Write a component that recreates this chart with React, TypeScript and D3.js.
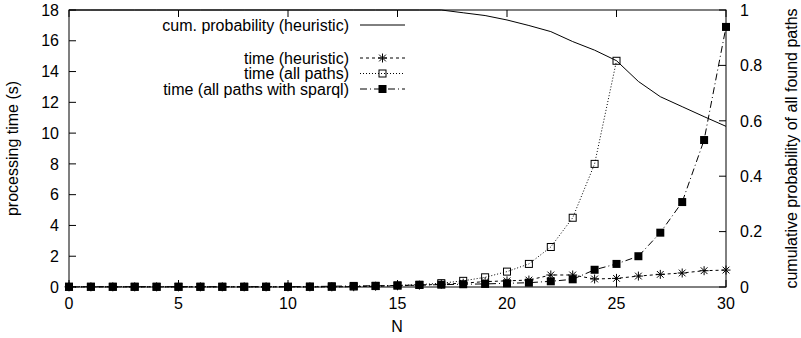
import * as d3 from "d3";

const nValues = d3.range(0, 31);
const xTicks = [0, 5, 10, 15, 20, 25, 30];
const yTicks = [0, 2, 4, 6, 8, 10, 12, 14, 16, 18];
const y2Ticks = [0, 0.2, 0.4, 0.6, 0.8, 1];

const cumProbability = [
  1, 1, 1, 1, 1, 1, 1, 1, 1, 1, 1, 1, 1, 1, 1, 1, 1, 1,
  0.99, 0.98, 0.964, 0.944, 0.922, 0.886, 0.855, 0.817, 0.742, 0.687, 0.651, 0.615, 0.58,
];
const timeHeuristic = [
  0.01, 0.01, 0.01, 0.01, 0.01, 0.01, 0.01, 0.01, 0.01, 0.01, 0.01, 0.01, 0.01,
  0.02, 0.05, 0.08, 0.12, 0.18, 0.25, 0.35, 0.4, 0.45, 0.78, 0.78, 0.52, 0.56,
  0.71, 0.82, 0.91, 1.06, 1.1,
];
const timeAllPaths = [
  0.01, 0.01, 0.01, 0.01, 0.01, 0.01, 0.01, 0.01, 0.01, 0.01, 0.01, 0.01, 0.01,
  0.03, 0.06, 0.1, 0.15, 0.25, 0.4, 0.63, 1.0, 1.5, 2.6, 4.5, 8.0, 14.7,
];
const timeSparql = [
  0.02, 0.02, 0.02, 0.02, 0.02, 0.02, 0.02, 0.02, 0.02, 0.02, 0.02, 0.03, 0.05,
  0.07, 0.08, 0.1, 0.13, 0.15, 0.18, 0.2, 0.24, 0.28, 0.37, 0.5, 1.12, 1.5, 2.0,
  3.53, 5.52, 9.55, 16.9,
];

const W = 801;
const H = 338;
const margin = { top: 10, right: 75, bottom: 51, left: 69 };
const FONT = "'Liberation Sans', Arial, Helvetica, sans-serif";
const FS = 16;

function Star({ x, y, s = 4.5 }: { x: number; y: number; s?: number }) {
  const d = s * 0.75;
  return (
    <path
      d={`M${x - s},${y}H${x + s}M${x},${y - s}V${y + s}M${x - d},${y - d}L${x + d},${y + d}M${x - d},${y + d}L${x + d},${y - d}`}
      stroke="#000"
      strokeWidth={1}
    />
  );
}

function OpenSquare({ x, y, s = 3.5 }: { x: number; y: number; s?: number }) {
  return <rect x={x - s} y={y - s} width={s * 2} height={s * 2} fill="none" stroke="#000" strokeWidth={1} />;
}

function FilledSquare({ x, y, s = 4 }: { x: number; y: number; s?: number }) {
  return <rect x={x - s} y={y - s} width={s * 2} height={s * 2} fill="#000" />;
}

export default function App() {
  const innerW = W - margin.left - margin.right;
  const innerH = H - margin.top - margin.bottom;
  const x = d3.scaleLinear().domain([0, 30]).range([margin.left, margin.left + innerW]);
  const y = d3.scaleLinear().domain([0, 18]).range([margin.top + innerH, margin.top]);
  const y2 = d3.scaleLinear().domain([0, 1]).range([margin.top + innerH, margin.top]);

  const lineL = d3.line<number>().x((_, i) => x(nValues[i])).y((d) => y(d));
  const lineR = d3.line<number>().x((_, i) => x(nValues[i])).y((d) => y2(d));

  const tick = 7;
  const legendTextX = 349;
  const legendX1 = 360;
  const legendX2 = 405;
  const legendMid = (legendX1 + legendX2) / 2;
  const rows = [25, 58, 73.5, 89];
  const dy = 5.7;

  return (
    <svg width={W} height={H} style={{ position: "absolute", left: 0, top: 0, background: "#fff" }} fontFamily={FONT}>
      <rect x={0} y={0} width={W} height={H} fill="#fff" />

      {/* ticks */}
      {xTicks.map((t) => (
        <g key={`xt${t}`}>
          <line x1={x(t)} x2={x(t)} y1={y(0)} y2={y(0) - tick} stroke="#000" />
          <line x1={x(t)} x2={x(t)} y1={y(18)} y2={y(18) + tick} stroke="#000" />
          <text x={x(t)} y={309} textAnchor="middle" fontSize={FS}>{t}</text>
        </g>
      ))}
      {yTicks.map((t) => (
        <g key={`yt${t}`}>
          <line x1={x(0)} x2={x(0) + tick} y1={y(t)} y2={y(t)} stroke="#000" />
          <text x={59} y={y(t) + dy} textAnchor="end" fontSize={FS}>{t}</text>
        </g>
      ))}
      {y2Ticks.map((t) => (
        <g key={`y2t${t}`}>
          <line x1={x(30)} x2={x(30) - tick} y1={y2(t)} y2={y2(t)} stroke="#000" />
          <text x={740} y={y2(t) + dy} textAnchor="start" fontSize={FS}>{t}</text>
        </g>
      ))}

      {/* axis labels */}
      <text x={397} y={332} textAnchor="middle" fontSize={FS}>N</text>
      <text transform={`translate(18,${(y(0) + y(18)) / 2}) rotate(-90)`} textAnchor="middle" fontSize={FS}>
        processing time (s)
      </text>
      <text transform={`translate(797,${(y(0) + y(18)) / 2}) rotate(-90)`} textAnchor="middle" fontSize={FS}>
        cumulative probability of all found paths
      </text>

      {/* series */}
      <path d={lineR(cumProbability) || ""} fill="none" stroke="#000" strokeWidth={1} />

      <path d={lineL(timeHeuristic) || ""} fill="none" stroke="#000" strokeWidth={1} strokeDasharray="3,3" />
      {timeHeuristic.map((d, i) => <Star key={`h${i}`} x={x(nValues[i])} y={y(d)} />)}

      <path d={lineL(timeAllPaths) || ""} fill="none" stroke="#000" strokeWidth={1} strokeDasharray="1,2" />
      {timeAllPaths.map((d, i) => <OpenSquare key={`a${i}`} x={x(nValues[i])} y={y(d)} />)}

      <path d={lineL(timeSparql) || ""} fill="none" stroke="#000" strokeWidth={1} strokeDasharray="7,3,1,3" />
      {timeSparql.map((d, i) => <FilledSquare key={`s${i}`} x={x(nValues[i])} y={y(d)} />)}

      {/* legend */}
      <g fontSize={FS} textAnchor="end">
        <text x={legendTextX} y={rows[0] + dy}>cum. probability (heuristic)</text>
        <line x1={legendX1} x2={legendX2} y1={rows[0]} y2={rows[0]} stroke="#000" />

        <text x={legendTextX} y={rows[1] + dy}>time (heuristic)</text>
        <line x1={legendX1} x2={legendX2} y1={rows[1]} y2={rows[1]} stroke="#000" strokeDasharray="3,3" />
        <Star x={legendMid} y={rows[1]} />

        <text x={legendTextX} y={rows[2] + dy}>time (all paths)</text>
        <line x1={legendX1} x2={legendX2} y1={rows[2]} y2={rows[2]} stroke="#000" strokeDasharray="1,2" />
        <OpenSquare x={legendMid} y={rows[2]} />

        <text x={legendTextX} y={rows[3] + dy}>time (all paths with sparql)</text>
        <line x1={legendX1} x2={legendX2} y1={rows[3]} y2={rows[3]} stroke="#000" strokeDasharray="7,3,1,3" />
        <FilledSquare x={legendMid} y={rows[3]} />
      </g>

      {/* frame */}
      <rect x={x(0)} y={y(18)} width={innerW} height={innerH} fill="none" stroke="#000" strokeWidth={1} />
    </svg>
  );
}
